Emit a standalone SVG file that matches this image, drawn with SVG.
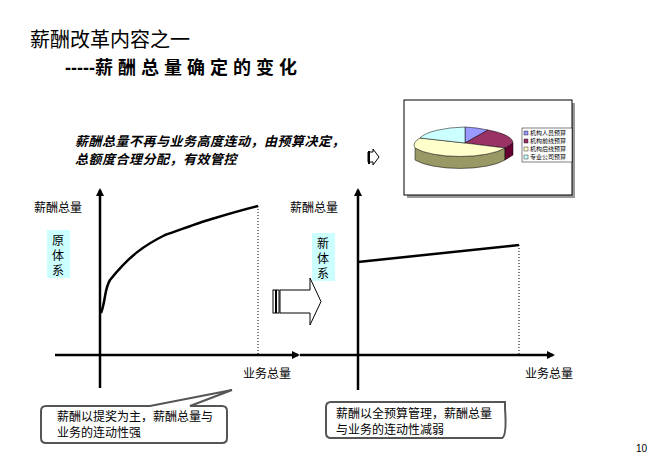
<svg xmlns="http://www.w3.org/2000/svg" width="654" height="463" viewBox="0 0 654 463">
<style>
text{font-family:"Liberation Sans","Noto Sans CJK SC",sans-serif;fill:#000}
.ax{stroke:#000;stroke-width:2.5;fill:none}
.lbl{font-size:12px}
.side{fill:#ccffff}
.co{fill:#fff;stroke:#555;stroke-width:2}
.lg{font-size:6px}
</style>
<defs>
<marker id="ah" markerWidth="8" markerHeight="8" refX="6" refY="4" orient="auto" markerUnits="userSpaceOnUse"><path d="M0,0 L8,4 L0,8 Z" fill="#000"/></marker>
</defs>
<rect width="654" height="463" fill="#fff"/>
<text x="30" y="47" font-size="20">薪酬改革内容之一</text>
<text x="65" y="74" font-size="18" font-weight="bold">-----<tspan letter-spacing="5">薪酬总量确定的变化</tspan></text>
<text x="75" y="146" font-size="13" font-weight="bold" font-style="italic" letter-spacing="0.5">薪酬总量不再与业务高度连动，由预算决定，</text>
<text x="75" y="164" font-size="13" font-weight="bold" font-style="italic" letter-spacing="0.5">总额度合理分配，有效管控</text>
<g id="chart">
<rect x="407" y="103" width="168" height="95" fill="#999"/>
<rect x="404" y="100" width="168" height="95" fill="#fff" stroke="#000"/>
<path d="M415,148 v12 A50,15 0 0 0 505,160 v-12 A50,15 0 0 1 415,148 Z" fill="#999966" stroke="#000" stroke-width="0.5"/>
<path d="M505,148 v12 l8,-5 v-12 Z" fill="#660033" stroke="#000" stroke-width="0.5"/>
<path d="M465,143 L465,127 A50,15 0 0 1 488,130 Z" fill="#9999ff" stroke="#000" stroke-width="0.5"/>
<path d="M465,143 L488,130 A50,15 0 0 1 513,143 L505,148 Z" fill="#993366" stroke="#000" stroke-width="0.5"/>
<path d="M465,143 L505,148 A50,15 0 0 1 415,148 A50,15 0 0 1 420,138 Z" fill="#ffffcc" stroke="#000" stroke-width="0.5"/>
<path d="M465,143 L420,138 A50,15 0 0 1 465,127 Z" fill="#ccffff" stroke="#000" stroke-width="0.5"/>
<rect x="522" y="128" width="50" height="34" fill="#fff" stroke="#000" stroke-width="0.5"/>
<rect x="524" y="131" width="4" height="4" fill="#9999ff" stroke="#000" stroke-width="0.4"/>
<rect x="524" y="139" width="4" height="4" fill="#993366" stroke="#000" stroke-width="0.4"/>
<rect x="524" y="147" width="4" height="4" fill="#ffffcc" stroke="#000" stroke-width="0.4"/>
<rect x="524" y="155" width="4" height="4" fill="#ccffff" stroke="#000" stroke-width="0.4"/>
<text class="lg" x="530" y="135">机构人员预算</text>
<text class="lg" x="530" y="143">机构前线预算</text>
<text class="lg" x="530" y="151">机构后线预算</text>
<text class="lg" x="530" y="159">专业公司预算</text>
</g>
<g id="smallarrow"><path d="M368,152 h5 v-3 l6,8 l-6,8 v-3 h-5 Z" fill="#fff" stroke="#000"/><rect x="368" y="151" width="2" height="13" fill="#000"/></g>
<g id="connectors">
<line class="ax" x1="100" y1="388" x2="100" y2="190" marker-end="url(#ah)"/>
<line class="ax" x1="55" y1="355" x2="298" y2="355" marker-end="url(#ah)"/>
<path class="ax" d="M101,313 C106,300 104,290 110,280 C130,255 145,245 165,235 C180,230 200,222 215,218 C235,212 250,208 258,206" stroke-width="3"/>
<line x1="258" y1="206" x2="258" y2="355" stroke="#000" stroke-dasharray="1,2"/>
<line class="ax" x1="358" y1="390" x2="358" y2="190" marker-end="url(#ah)"/>
<line class="ax" x1="300" y1="355" x2="553" y2="355" marker-end="url(#ah)"/>
<line class="ax" x1="358" y1="262" x2="519" y2="245"/>
<line x1="519" y1="245" x2="519" y2="355" stroke="#000" stroke-dasharray="1,2"/>
</g>
<text class="lbl" x="34" y="212">薪酬总量</text>
<text class="lbl" x="290" y="212">薪酬总量</text>
<text class="lbl" x="243" y="378">业务总量</text>
<text class="lbl" x="525" y="378">业务总量</text>
<g id="old"><rect x="47" y="230" width="23" height="48" class="side"/><text class="lbl" x="52" y="245">原</text><text class="lbl" x="52" y="260">体</text><text class="lbl" x="52" y="275">系</text></g>
<g id="new"><rect x="312" y="233" width="23" height="48" class="side"/><text class="lbl" x="317" y="248">新</text><text class="lbl" x="317" y="263">体</text><text class="lbl" x="317" y="278">系</text></g>
<g id="bigarrow"><rect x="273" y="290" width="6" height="23" fill="#fff" stroke="#000"/><rect x="275" y="290" width="2" height="23" fill="#000"/><path d="M280,290 h30 v-12 l11,23.5 l-11,23.5 v-12 h-30 Z" fill="#fff" stroke="#000"/></g>
<g id="callout1"><path class="co" d="M46,406 H150 L232,390 L190,406 H222 Q227,406 227,411 V438 Q227,443 222,443 H46 Q41,443 41,438 V411 Q41,406 46,406 Z"/><text class="lbl" x="57" y="421">薪酬以提奖为主，薪酬总量与</text><text class="lbl" x="57" y="437">业务的连动性强</text></g>
<g id="callout2"><path class="co" d="M331,402 H505 V408 Q507,436 502,438 H331 Q326,438 326,433 V407 Q326,402 331,402 Z"/><text class="lbl" x="336" y="418">薪酬以全预算管理，薪酬总量</text><text class="lbl" x="336" y="434">与业务的连动性减弱</text></g>
<text x="636" y="452" font-size="10">10</text>
</svg>
